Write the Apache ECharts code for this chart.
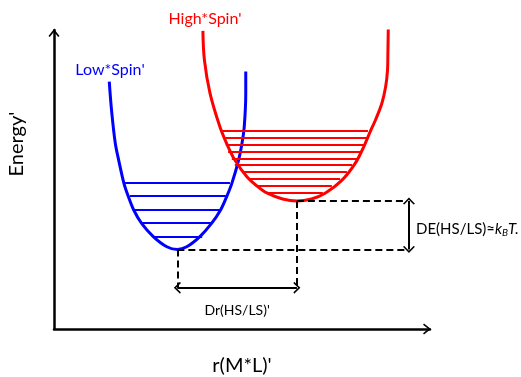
<!DOCTYPE html>
<html>
<head>
<meta charset="utf-8">
<script src="https://cdn.jsdelivr.net/npm/echarts@6/dist/echarts.min.js"></script>
<style>html,body{margin:0;padding:0;background:#fff}#chart{width:521px;height:377px}</style>
</head>
<body>
<div id="chart"></div>
<script>
// potential wells, r(M-L) vs energy, arbitrary units
var lowSpinR = [14.7, 15.3, 16.3, 17.2, 18.6, 19.8, 21.2, 23.3, 26.4, 30.0, 32.8, 35.3, 38.8, 41.9, 44.3, 45.9, 47.3, 49.1, 50.0, 50.6, 51.0, 51.0];
var lowSpinE = [82.7, 73.2, 62.1, 56.5, 48.7, 44.2, 39.8, 35.3, 30.9, 27.5, 26.6, 27.5, 30.9, 35.3, 39.8, 44.2, 48.7, 56.5, 62.1, 67.7, 78.8, 86.1];
var highSpinR = [39.6, 40.0, 41.5, 44.1, 45.9, 48.1, 51.3, 54.0, 56.6, 60.8, 64.6, 68.5, 72.1, 76.6, 80.1, 82.4, 84.3, 85.5, 87.2, 88.2, 88.7, 88.8, 88.9];
var highSpinE = [99.7, 90.0, 78.8, 67.7, 62.1, 56.5, 50.9, 47.8, 45.5, 43.5, 42.8, 43.5, 45.4, 49.8, 55.4, 61.0, 66.6, 69.9, 75.5, 81.0, 86.6, 92.2, 100.2];
// vibrational levels: [r left, r right, energy]
var lowSpinLevels = [[18.9, 46.8, 48.8], [20.2, 45.7, 44.5], [21.5, 44.1, 39.8], [23.4, 42.3, 35.5], [26.3, 39.4, 30.8]];
var highSpinLevels = [[44.7, 83.5, 66.2], [45.5, 83.2, 64.0], [45.7, 82.7, 61.6], [46.3, 81.9, 59.4], [47.3, 80.6, 57.1],
                      [48.1, 79.3, 54.8], [50.0, 77.9, 52.5], [51.6, 76.1, 50.2], [54.0, 73.9, 47.8], [56.6, 71.5, 45.6]];
var lowMin = 10, highMin = 10; // index of well bottom
var drLevel = 13.8;            // energy where the Dr arrow sits
var guideEnd = 93.8;           // r where the dashed guides stop
var deR = 94.4;                // r of the DE arrow

var FONT = 'Lato';
var chev = 'path://M6,0L12,7.6L10.6,8.6L6,2.8L1.4,8.6L0,7.6Z';

function zip(a, b) {
    var out = [];
    for (var i = 0; i < a.length; i++) out.push([a[i], b[i]]);
    return out;
}
function levelLines(levels) {
    return levels.map(function (l) {
        return [{ coord: [l[0], l[2]] }, { coord: [l[1], l[2]] }];
    });
}

var lo = [lowSpinR[lowMin], lowSpinE[lowMin]];
var hi = [highSpinR[highMin], highSpinE[highMin]];

var myChart = echarts.init(document.getElementById('chart'));
myChart.setOption({
    animation: false,
    grid: { left: 54, right: 91, top: 30, bottom: 48, outerBoundsMode: 'none', containLabel: false },
    xAxis: {
        type: 'value', min: 0, max: 100,
        axisLine: { show: true, onZero: false, symbol: ['none', chev], symbolSize: [11, 8], symbolOffset: [0, -3],
            lineStyle: { color: '#000', width: 2.5 } },
        axisTick: { show: false }, axisLabel: { show: false }, splitLine: { show: false },
        name: "r(M*L)'", nameLocation: 'middle', nameGap: 27,
        nameTextStyle: { fontFamily: FONT, fontSize: 20, color: '#000' }
    },
    yAxis: {
        type: 'value', min: 0, max: 100,
        axisLine: { show: true, onZero: false, symbol: ['none', chev], symbolSize: [11, 8], symbolOffset: [0, -3],
            lineStyle: { color: '#000', width: 2.5 } },
        axisTick: { show: false }, axisLabel: { show: false }, splitLine: { show: false }
    },
    graphic: [
        { type: 'text', x: 205, y: 19, style: { text: "High*Spin'", fill: '#ff0000', font: '16px ' + FONT, textAlign: 'center', textVerticalAlign: 'middle' } },
        { type: 'text', x: 110, y: 70, style: { text: "Low*Spin'", fill: '#0000ff', font: '16px ' + FONT, textAlign: 'center', textVerticalAlign: 'middle' } },
        { type: 'text', x: 17, y: 144, rotation: Math.PI / 2, style: { text: "Energy'", fill: '#000', font: '20px ' + FONT, textAlign: 'center', textVerticalAlign: 'middle' } },
        { type: 'text', x: 416, y: 229, style: {
            text: '{n|DE(HS/LS)≈}{i|k}{s|B}{i|T.}', textVerticalAlign: 'middle',
            rich: {
                n: { fontFamily: FONT, fontSize: 15, fill: '#000' },
                i: { fontFamily: FONT, fontSize: 15, fontStyle: 'italic', fill: '#000' },
                s: { fontFamily: FONT, fontSize: 10, fontStyle: 'italic', fill: '#000', padding: [7, 0, 0, 0] }
            } } }
    ],
    series: [{
        name: 'Low Spin', type: 'line', data: zip(lowSpinR, lowSpinE), smooth: 0.35, showSymbol: false, silent: true, clip: false,
        lineStyle: { color: '#0000ff', width: 3 },
        markLine: { silent: true, symbol: 'none', label: { show: false },
            lineStyle: { color: '#0000ff', width: 2, type: 'solid' }, data: levelLines(lowSpinLevels) }
    }, {
        name: 'High Spin', type: 'line', data: zip(highSpinR, highSpinE), smooth: 0.35, showSymbol: false, silent: true, clip: false,
        lineStyle: { color: '#ff0000', width: 3 },
        markLine: { silent: true, symbol: 'none', label: { show: false },
            lineStyle: { color: '#ff0000', width: 2, type: 'solid' }, data: levelLines(highSpinLevels) }
    }, {
        name: 'guides', type: 'line', data: [], silent: true,
        markLine: { silent: true, symbol: 'none', label: { show: false },
            lineStyle: { color: '#000', width: 2, type: [7, 4] },
            data: [
                [{ coord: lo }, { coord: [guideEnd, lo[1]] }],
                [{ coord: hi }, { coord: [guideEnd, hi[1]] }],
                [{ coord: lo }, { coord: [lo[0], drLevel] }],
                [{ coord: hi }, { coord: [hi[0], drLevel] }]
            ] }
    }, {
        name: 'arrows', type: 'line', data: [], silent: true,
        markLine: { silent: true, symbol: [chev, chev], symbolSize: [12, 7],
            lineStyle: { color: '#000', width: 2, type: 'solid' },
            data: [
                [{ coord: [lo[0], drLevel] }, { coord: [hi[0], drLevel] }],
                [{ coord: [deR, hi[1]] }, { coord: [deR, lo[1]] }]
            ],
            label: { show: true, position: 'insideMiddleBottom', distance: 16, fontFamily: FONT, fontSize: 14, color: '#000',
                formatter: function (p) { return p.dataIndex === 0 ? "Dr(HS/LS)'" : ''; } }
        }
    }]
});
</script>
</body>
</html>
